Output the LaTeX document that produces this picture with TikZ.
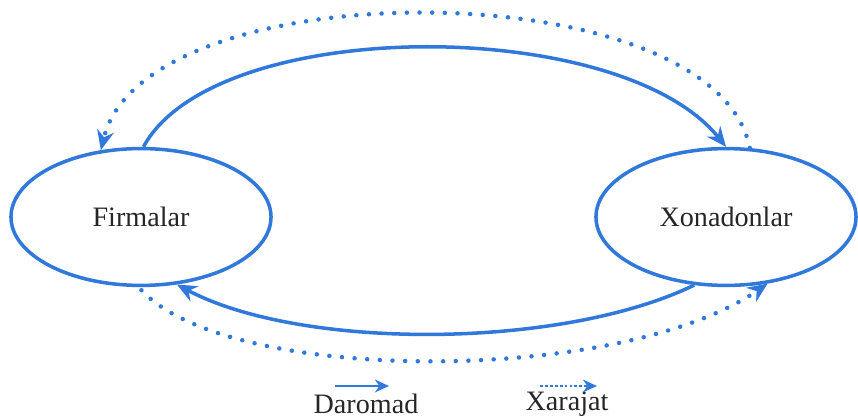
\documentclass[tikz,border=0pt]{standalone}
\usepackage{fontspec}
\setmainfont{Liberation Serif}
\usepackage{tikz}
\usetikzlibrary{shapes.geometric, arrows.meta, positioning}
\definecolor{flowblue}{RGB}{48,120,218}
\tikzstyle{sector} = [ellipse, draw=flowblue, line width=2.5pt, minimum width=6.5cm, minimum height=3.42cm, text centered, text=black!85, font=\fontsize{20}{24}\selectfont]
\tikzstyle{daromad} = [flowblue, line width=2.5pt, -{Stealth[length=14pt, width=12pt]}]
\tikzstyle{xarajat} = [flowblue, line width=3.2pt, line cap=round, dash pattern=on 0pt off 9pt, -{Stealth[length=14pt, width=12pt]}]
\tikzstyle{legend} = [text=black!85, font=\fontsize{20}{24}\selectfont]

\begin{document}
\begin{tikzpicture}[x=0.025cm, y=-0.025cm]
\useasboundingbox (0,0) rectangle (858,420);

% Sectors
\node (firm) [sector] at (141,217) {Firmalar};
\node (house) [sector] at (726,217) {Xonadonlar};

% Upper flows
\draw [daromad] (firm.88) .. controls (215,15) and (620,15) .. (house.90);
\draw [xarajat] (house.71) .. controls (715,-30) and (145,-32) .. (firm.121);

% Lower flows
\draw [daromad] (house.245) .. controls (560,350) and (300,350) .. (firm.298);
\draw [xarajat, shorten <=3pt] (firm.268) .. controls (230,385) and (620,385) .. (house.302);

% Legend
\node (dlabel) [legend] at (366,404) {Daromad};
\node (xlabel) [legend] at (567,404) {Xarajat};
\coordinate (dstart) at (335,386);
\coordinate (dend) at (389,386);
\coordinate (xstart) at (540,386);
\coordinate (xend) at (597,386);
\draw [daromad, line width=1.8pt, -{Stealth[length=10pt, width=9pt]}] (dstart) -- (dend);
\draw [xarajat, line width=1.5pt, line cap=butt, dash pattern=on 2pt off 1.5pt, -{Stealth[length=10pt, width=9pt]}] (xstart) -- (xend);

\end{tikzpicture}
\end{document}
